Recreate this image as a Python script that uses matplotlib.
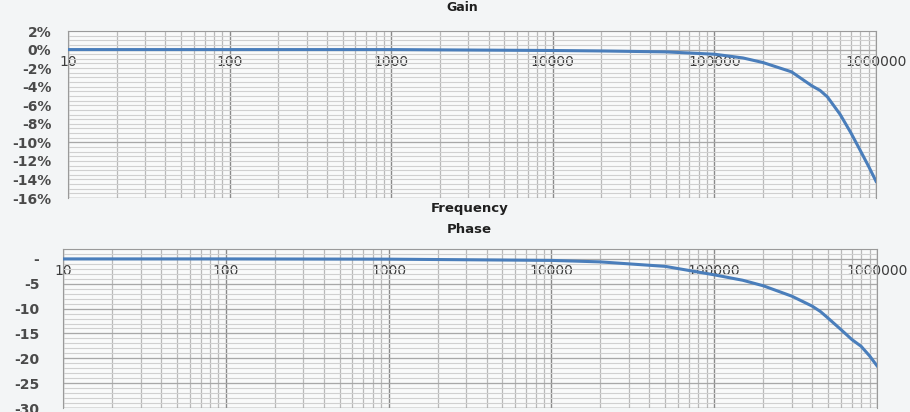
import numpy as np
import matplotlib
matplotlib.use('Agg')
import matplotlib.pyplot as plt
from matplotlib.ticker import FixedLocator, MultipleLocator, FuncFormatter, NullFormatter

# values
freq = [10, 100, 1000, 10000, 20000, 50000, 100000, 150000, 200000, 300000,
        400000, 450000, 500000, 600000, 700000, 800000, 900000, 1000000]
gain = [0, 0, 0, -0.1, -0.15, -0.25, -0.5, -0.9, -1.4, -2.4,
        -3.9, -4.4, -5.1, -7.0, -9.0, -10.9, -12.6, -14.2]
phase = [0, 0, -0.05, -0.3, -0.6, -1.5, -3.2, -4.3, -5.4, -7.5,
         -9.5, -10.6, -11.9, -14.2, -16.2, -17.6, -19.5, -21.5]
decades = [10, 100, 1000, 10000, 100000, 1000000]

line_col = '#4a7ebb'
bg = '#f3f5f6'
txt = '#3c3c3c'

fig = plt.figure(figsize=(9.1, 4.12), dpi=100, facecolor=bg)
ax1 = fig.add_axes([0.0747, 0.5194, 0.888, 0.4053])
ax2 = fig.add_axes([0.0692, 0.0097, 0.8945, 0.386])


def style(ax, ymin, ymax, major, minor, fmt, yticks, ypad):
    ax.set_facecolor('#f9fafa')
    ax.set_xscale('log')
    ax.set_xlim(10, 1e6)
    ax.set_ylim(ymin, ymax)
    ax.xaxis.set_major_locator(FixedLocator(decades))
    ax.xaxis.set_minor_locator(FixedLocator(
        [m * d for d in decades[:-1] for m in range(2, 10)]))
    ax.xaxis.set_minor_formatter(NullFormatter())
    ax.set_xticklabels([str(d) for d in decades])
    ax.yaxis.set_major_locator(FixedLocator(yticks))
    ax.yaxis.set_minor_locator(MultipleLocator(minor))
    ax.yaxis.set_major_formatter(FuncFormatter(fmt))
    ax.grid(True, which='minor', axis='x', color='#b9b9b9', lw=0.9)
    ax.grid(True, which='minor', axis='y', color='#d0d0d0', lw=0.8)
    ax.grid(True, which='major', axis='x', color='#8a8a8a', lw=1.0)
    ax.grid(True, which='major', axis='y', color='#d0d0d0', lw=0.8)
    for v in np.arange(0, ymin - 0.01, -major):
        ax.axhline(v, color='#a8a8a8', lw=0.9, zorder=0.6)
    ax.set_axisbelow(True)
    # x axis crosses at zero like the spreadsheet chart
    ax.spines['bottom'].set_position(('data', 0))
    ax.spines['bottom'].set_visible(False)
    for s in ['top', 'left', 'right']:
        ax.spines[s].set_color('#9a9a9a')
    ax.axhline(ymin, color='#9a9a9a', lw=1.0)
    ax.tick_params(axis='both', which='both', length=0)
    ax.tick_params(axis='x', pad=4, labelsize=10, labelcolor=txt)
    ax.tick_params(axis='y', pad=ypad, labelsize=10, labelcolor='#4a4a4a')
    for lab in ax.get_yticklabels():
        lab.set_fontweight('bold')


style(ax1, -16, 2, 10, 0.5, lambda v, p: f"{v:.0f}%",
      list(range(2, -17, -2)), 12)
style(ax2, -30, 2, 5, 1, lambda v, p: '-' if v == 0 else f"{v:.0f}",
      list(range(0, -31, -5)), 17)

ax1.plot(freq, gain, color=line_col, lw=2.2, zorder=3)
ax2.plot(freq, phase, color=line_col, lw=2.2, zorder=3)

fig.text(0.508, 0.982, 'Gain', ha='center', va='center', fontsize=9,
         fontweight='bold', color='#202020')
fig.text(0.516, 0.495, 'Frequency', ha='center', va='center', fontsize=9.5,
         fontweight='bold', color='#202020')
fig.text(0.516, 0.442, 'Phase', ha='center', va='center', fontsize=9.5,
         fontweight='bold', color='#202020')

fig.savefig('out.png', dpi=100, facecolor=bg)
